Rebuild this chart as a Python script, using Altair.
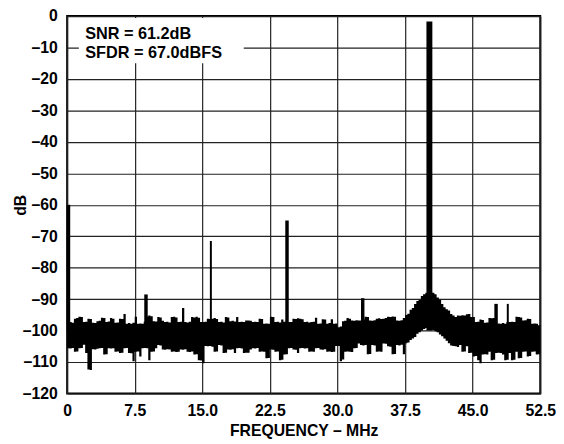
import altair as alt
import pandas as pd

# ---------------- data ----------------
STEP = 0.25  # MHz between envelope samples

# upper edge of the noise band (dB), 0 .. 52.5 MHz
TOP = [
    -97.3, -97.3, -97.5, -96.2, -96.0, -95.6, -95.7, -97.3, -97.2, -96.2, -96.3, -97.5, -97.6, -97.0, -96.9, -95.9, -96.0, -97.3, -97.1, -96.0,
    -96.2, -97.5, -97.4, -96.2, -96.3, -94.7, -97.8, -97.6, -97.8, -97.5, -95.6, -97.8, -97.7, -97.8, -97.2, -95.5, -95.2, -95.4, -97.0, -97.1,
    -95.7, -95.8, -96.9, -97.3, -97.2, -97.4, -95.7, -95.6, -95.8, -97.3, -97.2, -92.8, -97.3, -97.4, -97.2, -95.7, -95.8, -95.6, -95.9, -97.3,
    -97.3, -97.2, -96.2, -96.3, -96.2, -96.0, -96.3, -97.3, -97.2, -97.4, -95.7, -95.8, -97.0, -96.9, -97.1, -95.7, -97.3, -97.2, -97.3, -96.8,
    -96.8, -96.9, -97.3, -97.2, -97.3, -96.2, -96.3, -97.8, -97.7, -97.8, -95.6, -95.7, -97.3, -97.2, -97.4, -96.5, -97.2, -96.8, -97.3, -97.3,
    -96.2, -96.3, -96.1, -96.2, -96.4, -97.3, -97.2, -97.4, -97.3, -97.2, -95.9, -97.8, -97.7, -96.4, -96.5, -97.8, -97.6, -96.4, -97.8, -97.7,
    -98.9, -98.7, -97.0, -96.9, -96.0, -96.2, -96.8, -96.9, -96.7, -96.8, -96.8, -96.5, -95.6, -95.7, -96.8, -96.9, -96.7, -96.2, -96.1, -96.3,
    -96.2, -96.0, -95.6, -95.7, -95.5, -95.6, -96.8, -96.9, -96.7, -96.0, -95.0, -94.6, -93.4, -92.8, -91.5, -90.6, -90.2, -89.0, -88.4, -88.0,
    -87.5, -87.5, -88.0, -88.4, -89.5, -90.2, -91.5, -92.6, -93.2, -93.6, -94.7, -95.2, -95.7, -95.2, -95.3, -95.1, -95.2, -94.8, -94.7, -95.7,
    -95.7, -97.3, -97.2, -96.5, -96.6, -97.5, -97.4, -96.0, -96.1, -96.0, -97.8, -97.7, -97.8, -97.6, -97.8, -97.3, -97.3, -97.2, -97.3, -95.6,
    -95.7, -95.8, -96.8, -96.7, -96.2, -96.3, -97.8, -97.7, -97.8, -98.3, -98.3,
]

# lower edge of the noise band (dB)
BOTTOM = [
    -105.6, -105.7, -105.5, -106.7, -106.6, -105.6, -105.5, -104.5, -107.1, -112.4, -112.5, -105.9, -106.0, -105.8, -105.6, -105.5, -107.6, -107.5, -105.6, -105.7,
    -105.6, -106.7, -106.6, -107.1, -107.0, -105.6, -105.5, -107.1, -107.2, -109.7, -106.7, -106.6, -108.2, -105.6, -105.5, -105.6, -109.4, -106.7, -106.6, -105.6,
    -104.6, -104.7, -106.0, -106.1, -105.9, -106.0, -106.7, -106.6, -106.8, -106.7, -106.0, -106.1, -105.9, -106.7, -106.8, -106.6, -107.6, -107.5, -109.4, -109.5,
    -110.4, -104.9, -105.0, -104.9, -105.1, -106.7, -106.6, -104.6, -104.7, -107.1, -107.0, -106.0, -106.1, -105.9, -107.1, -105.6, -105.5, -105.7, -107.1, -107.0,
    -107.0, -106.0, -105.6, -105.7, -105.5, -106.7, -106.6, -106.7, -108.8, -108.7, -106.0, -106.1, -106.7, -106.6, -109.4, -109.3, -107.6, -107.5, -105.6, -105.5,
    -106.0, -106.1, -107.1, -105.6, -105.5, -105.7, -105.6, -106.7, -106.6, -106.7, -105.6, -105.5, -106.0, -106.1, -105.9, -106.7, -106.6, -106.8, -106.7, -104.9,
    -104.9, -109.7, -109.2, -106.7, -106.6, -106.7, -106.8, -105.6, -105.5, -104.1, -104.6, -104.7, -104.6, -107.5, -107.4, -104.6, -104.7, -106.7, -106.6, -106.7,
    -104.1, -104.2, -105.0, -105.1, -107.5, -107.4, -104.6, -104.7, -104.5, -107.5, -104.0, -103.8, -103.0, -102.5, -102.0, -101.0, -100.5, -100.0, -99.5, -99.2,
    -99.3, -99.5, -99.8, -100.2, -100.5, -101.2, -101.8, -102.5, -103.2, -104.0, -104.7, -104.9, -105.0, -105.2, -104.6, -106.7, -106.6, -105.0, -107.1, -107.0,
    -108.2, -108.1, -109.4, -110.4, -107.6, -107.5, -107.6, -106.7, -109.4, -109.3, -107.1, -107.0, -107.1, -107.6, -109.4, -109.3, -107.1, -109.4, -109.3, -106.7,
    -108.8, -108.7, -106.7, -106.6, -108.2, -108.1, -106.7, -106.6, -107.6, -107.5, -107.5,
]

FREQ = [round(i * STEP, 2) for i in range(len(TOP))]

# discrete spurs (MHz, dB)
THIN_SPUR_F = [15.95, 48.9]
THIN_SPUR_DB = [-71.5, -91.5]
THICK_SPUR_F = [0.15, 8.75, 24.4, 32.8, 47.6]
THICK_SPUR_DB = [-60.0, -88.5, -65.0, -89.7, -91.5]
TONE_F = [40.2]
TONE_DB = [-1.7]
SPUR_BASE = -100.0

X_TICKS = [0, 7.5, 15.0, 22.5, 30.0, 37.5, 45.0, 52.5]
Y_TICKS = [0, -10, -20, -30, -40, -50, -60, -70, -80, -90, -100, -110, -120]

NOTE_LINES = ["SNR = 61.2dB", "SFDR = 67.0dBFS"]
NOTE_X = [2.0, 2.0]
NOTE_Y = [-7.4, -13.2]
BOX_X = [1.3, 19.6]
BOX_Y = [-0.6, -15.0]

FONT = "Liberation Sans"

# ---------------- chart ----------------
band = pd.DataFrame({"f": FREQ, "top": TOP, "bottom": BOTTOM})
thin = pd.DataFrame({"f": THIN_SPUR_F, "db": THIN_SPUR_DB, "base": SPUR_BASE})
thick = pd.DataFrame({"f": THICK_SPUR_F, "db": THICK_SPUR_DB, "base": SPUR_BASE})
tone = pd.DataFrame({"f": TONE_F, "db": TONE_DB, "base": SPUR_BASE})
notes = pd.DataFrame({"x": NOTE_X, "y": NOTE_Y, "t": NOTE_LINES})
box = pd.DataFrame({"x": [BOX_X[0]], "x2": [BOX_X[1]], "y": [BOX_Y[0]], "y2": [BOX_Y[1]]})

xscale = alt.Scale(domain=[0, 52.5], nice=False, zero=False)
yscale = alt.Scale(domain=[-120, 0], nice=False, zero=False)

xaxis = alt.Axis(
    values=X_TICKS,
    labelExpr="datum.value == 0 ? '0' : format(datum.value, '.1f')",
    title="FREQUENCY – MHz",
    grid=True, ticks=False, domain=False,
    labelPadding=9, titlePadding=5,
    labelFlush=False, labelOverlap=False,
)
yaxis = alt.Axis(
    values=Y_TICKS,
    labelExpr="datum.value == 0 ? '0' : '–' + abs(datum.value)",
    title="dB",
    grid=True, ticks=False, domain=False,
    labelPadding=10, labelOverlap=False, labelFlush=False,
    titleX=-47, titleY=191.5, titleBaseline="middle", titleAlign="center",
    titleAngle=270,
)


def X(field):
    return alt.X(field, type="quantitative", scale=xscale, axis=xaxis)


def Y(field):
    return alt.Y(field, type="quantitative", scale=yscale, axis=yaxis)


base_layer = alt.Chart(band).mark_area(
    interpolate="step-after", color="black", opacity=1
).encode(x=X("f"), y=Y("top"), y2="bottom:Q")

thin_layer = alt.Chart(thin).mark_rule(color="black", strokeWidth=2).encode(
    x=X("f"), y=Y("db"), y2="base:Q"
)
thick_layer = alt.Chart(thick).mark_rule(color="black", strokeWidth=3.5).encode(
    x=X("f"), y=Y("db"), y2="base:Q"
)
tone_layer = alt.Chart(tone).mark_rule(color="black", strokeWidth=6).encode(
    x=X("f"), y=Y("db"), y2="base:Q"
)

box_layer = alt.Chart(box).mark_rect(color="white").encode(
    x=X("x"), x2="x2:Q", y=Y("y"), y2="y2:Q",
)
note_layer = alt.Chart(notes).mark_text(
    align="left", baseline="alphabetic", font=FONT, fontSize=16.5,
    fontWeight="bold", color="black"
).encode(x=X("x"), y=Y("y"), text="t:N")

chart = alt.layer(
    base_layer, thin_layer, thick_layer, tone_layer, box_layer, note_layer
).properties(
    width=480, height=383,
    autosize="none",
    padding={"left": 60, "top": 5, "right": 16, "bottom": 45},
    background="white",
).configure_view(
    stroke="black", strokeWidth=2
).configure_axis(
    gridColor="#222222", gridWidth=1.2, gridOpacity=1,
    labelFont=FONT, labelFontSize=16, labelFontWeight="bold", labelColor="black",
    titleFont=FONT, titleFontSize=16, titleFontWeight="bold", titleColor="black",
)

chart.save("out.html", embed_options={"renderer": "svg", "actions": False})
